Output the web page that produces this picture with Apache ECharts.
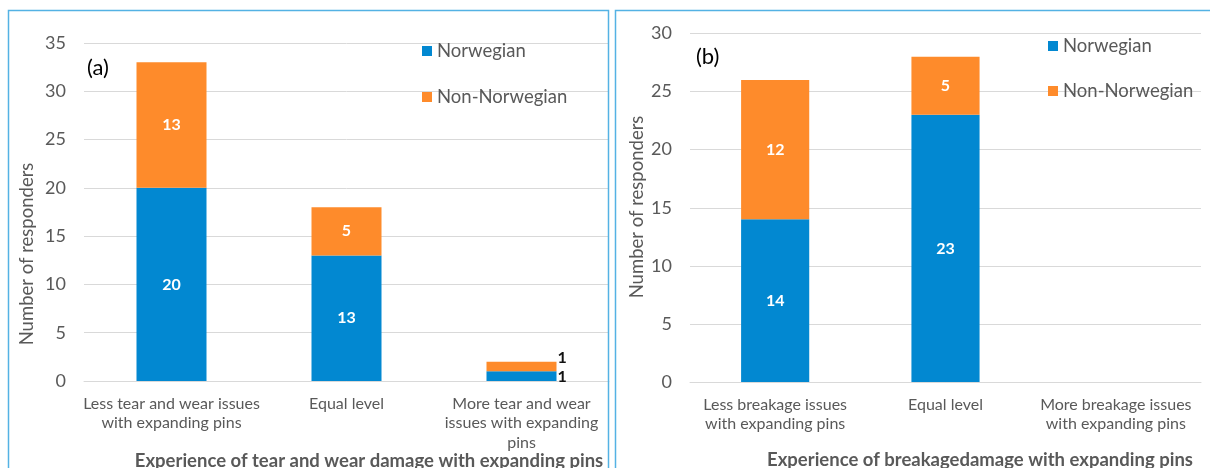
<!DOCTYPE html>
<html>
<head>
<meta charset="utf-8">
<script src="https://cdn.jsdelivr.net/npm/echarts@6/dist/echarts.min.js"></script>
<style>
html,body{margin:0;padding:0;background:#fff;}
#c{width:1210px;height:468px;}
</style>
</head>
<body>
<div id="c"></div>
<script>
// ---- data ----
const catsA = ['Less tear and wear issues\nwith expanding pins', 'Equal level', 'More tear and wear\nissues with expanding\npins'];
const norA = [20, 13, 1];
const nonA = [13, 5, 1];
const catsB = ['Less breakage issues\nwith expanding pins', 'Equal level', 'More breakage issues\nwith expanding pins'];
const norB = [14, 23, 0];
const nonB = [12, 5, 0];
const seriesNames = ['Norwegian', 'Non-Norwegian'];
const titleA = 'Experience of tear and wear damage with expanding pins';
const titleB = 'Experience of breakagedamage with expanding pins';
const yName = 'Number of responders';

const FONT = 'Lato';
const BLUE = '#0288d1';
const ORANGE = '#fe8b2b';
const GRAY = '#595959';

const chart = echarts.init(document.getElementById('c'), null, {renderer: 'canvas'});

function yAxisCfg(gi, max) {
  return {
    type: 'value', gridIndex: gi, min: 0, max: max, interval: 5,
    axisLine: {show: false}, axisTick: {show: false},
    axisLabel: {color: GRAY, fontFamily: FONT, fontSize: 18, margin: 18},
    splitLine: {lineStyle: {color: '#d9d9d9', width: 1}}
  };
}
function xAxisCfg(gi, cats) {
  return {
    type: 'category', gridIndex: gi, data: cats,
    axisLine: {lineStyle: {color: '#d9d9d9'}}, axisTick: {show: false},
    axisLabel: {color: GRAY, fontFamily: FONT, fontSize: 16, lineHeight: 19.5, margin: 13, interval: 0}
  };
}
const inLabel = {show: true, color: '#fff', fontFamily: FONT, fontWeight: 'bold', fontSize: 16,
  formatter: p => p.value > 0 ? p.value : ''};

function makeSeries(name, data, xi, stack, color, smallIdx, smallOffset) {
  return {
    name: name, type: 'bar', stack: stack, xAxisIndex: xi, yAxisIndex: xi,
    data: data.map((v, i) => {
      if (i === smallIdx) {
        return {value: v, label: {show: true, position: 'right', color: '#111', offset: smallOffset, distance: 1,
          fontFamily: FONT, fontWeight: 'bold', fontSize: 16}};
      }
      return v;
    }),
    barWidth: '40%', itemStyle: {color: color}, label: inLabel
  };
}

chart.setOption({
  animation: false,
  grid: [
    {left: 84, right: 601, top: 43, bottom: 87},
    {left: 690, right: 9, top: 33.5, bottom: 86}
  ],
  xAxis: [xAxisCfg(0, catsA), xAxisCfg(1, catsB)],
  yAxis: [yAxisCfg(0, 35), yAxisCfg(1, 30)],
  legend: [
    {data: seriesNames, orient: 'vertical', left: 417, top: 36, itemGap: 26, icon: 'rect',
      itemWidth: 10, itemHeight: 10, itemStyle: {borderWidth: 0}, selectedMode: false,
      textStyle: {color: GRAY, fontFamily: FONT, fontSize: 18.5, lineHeight: 20}},
    {data: seriesNames, orient: 'vertical', left: 1043, top: 31, itemGap: 25, icon: 'rect',
      itemWidth: 10, itemHeight: 10, itemStyle: {borderWidth: 0}, selectedMode: false,
      textStyle: {color: GRAY, fontFamily: FONT, fontSize: 18.5, lineHeight: 20}}
  ],
  series: [
    makeSeries(seriesNames[0], norA, 0, 'a', BLUE, 2, [0, 1]),
    makeSeries(seriesNames[1], nonA, 0, 'a', ORANGE, 2, [0, -9]),
    makeSeries(seriesNames[0], norB, 1, 'b', BLUE, -1),
    makeSeries(seriesNames[1], nonB, 1, 'b', ORANGE, -1)
  ],
  graphic: [
    {type: 'rect', shape: {x: 8.5, y: 10.5, width: 600, height: 480}, style: {fill: 'none', stroke: '#54b2e4', lineWidth: 1.5}, z: 100},
    {type: 'rect', shape: {x: 615.5, y: 10.5, width: 620, height: 480}, style: {fill: 'none', stroke: '#54b2e4', lineWidth: 1.5}, z: 100},
    {type: 'text', x: 87, y: 68, style: {text: '(a)', fontFamily: FONT, fontSize: 22, fill: '#000', textVerticalAlign: 'middle'}},
    {type: 'text', x: 696, y: 57, style: {text: '(b)', fontFamily: FONT, fontSize: 22, fill: '#000', textVerticalAlign: 'middle'}},
    {type: 'text', x: 27, y: 254, rotation: Math.PI / 2, style: {text: yName, fontFamily: FONT, fontSize: 18.5, fill: GRAY, textAlign: 'center', textVerticalAlign: 'middle'}},
    {type: 'text', x: 637, y: 207, rotation: Math.PI / 2, style: {text: yName, fontFamily: FONT, fontSize: 18.5, fill: GRAY, textAlign: 'center', textVerticalAlign: 'middle'}},
    {type: 'text', x: 369, y: 452, style: {text: titleA, fontFamily: FONT, fontSize: 18.5, fontWeight: 'bold', fill: GRAY, textAlign: 'center', textVerticalAlign: 'top'}},
    {type: 'text', x: 980, y: 451, style: {text: titleB, fontFamily: FONT, fontSize: 18.5, fontWeight: 'bold', fill: GRAY, textAlign: 'center', textVerticalAlign: 'top'}}
  ]
});
</script>
</body>
</html>
